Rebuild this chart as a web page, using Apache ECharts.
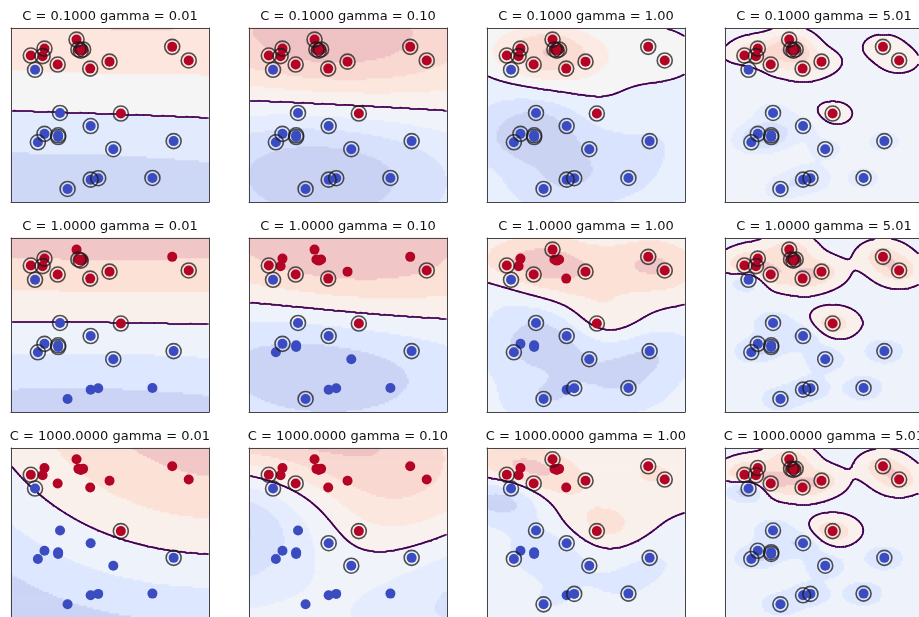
<!DOCTYPE html>
<html><head><meta charset="utf-8">
<script src="https://cdn.jsdelivr.net/npm/echarts@6/dist/echarts.min.js"></script>
<style>html,body{margin:0;padding:0;background:#fff}#c{width:919px;height:617px}</style>
</head><body><div id="c"></div>
<script>
// ---- data (x in [-2.1,2.1], y in [-3,3]) ----
const redX  = [-1.68, -1.39, -1.43, -0.71, -0.67, -0.57, -1.11, -0.42, -0.01, 1.32, 1.67, 0.23, -0.62];
const redY  = [ 2.05,  2.29,  2.03,  2.60,  2.26,  2.26,  1.74,  1.60,  1.84, 2.35, 1.88, 0.05,  2.22];
const blueX = [-1.59, -1.06, -0.41, -1.39, -1.53, -1.10, 0.07, 1.35, 0.90, -0.41, -0.25, -0.90, -1.10];
const blueY = [ 1.56,  0.07, -0.38, -0.65, -0.94, -0.76, -1.18, -0.90, -2.17, -2.23, -2.18, -2.55, -0.70];
const Cs = [0.1, 1, 1000];
const gammas = [0.01, 0.1, 1, 5.01];
// support-vector rings per panel (row-major), 1 = ringed
const svRed = [
  [1,1,1,1,1,1,1,1,1,1,1,1,1],[1,1,1,1,1,1,1,1,1,1,1,1,1],[1,1,1,1,1,1,1,1,1,1,1,1,1],[1,1,1,1,1,1,1,1,1,1,1,1,1],
  [1,1,1,0,1,0,1,1,1,0,1,1,1],[1,0,0,0,0,0,1,1,0,0,1,1,0],[1,0,0,1,0,0,1,0,1,1,1,1,0],[1,1,1,1,1,1,1,1,1,1,1,1,1],
  [1,0,0,0,0,0,0,0,0,0,0,1,0],[1,0,0,0,0,0,1,0,0,0,0,1,0],[1,0,0,1,0,0,1,0,1,1,1,1,0],[1,1,1,1,1,1,1,1,1,1,1,1,1]
];
const svBlue = [
  [1,1,1,1,1,1,1,1,1,1,1,1,1],[1,1,1,1,1,1,1,1,1,1,1,1,1],[1,1,1,1,1,1,1,1,1,1,1,1,1],[1,1,1,1,1,1,1,1,1,1,1,1,1],
  [1,1,1,1,1,1,1,1,0,0,0,0,1],[1,1,1,1,0,0,0,1,0,0,0,1,0],[1,1,1,0,1,0,1,1,1,0,1,1,0],[1,1,1,1,1,1,1,1,1,1,1,1,1],
  [1,0,0,0,0,0,0,1,0,0,0,0,0],[1,0,1,0,0,0,1,1,0,0,0,0,0],[1,1,1,0,1,0,1,1,1,0,1,1,0],[1,1,1,1,1,1,1,1,1,1,1,1,1]
];
const xRange = [-2.1, 2.1], yRange = [-3, 3];

// ---- layout / style ----
const colLeft = [11, 249, 487, 725], rowTop = [28, 238, 448], PW = 198, PH = 174;
const NX = 99, NY = 87;
const cmapStops = [[59,76,192],[98,130,234],[141,176,254],[184,208,249],[221,221,221],[245,196,173],[244,154,123],[222,96,77],[180,4,38]];
const ALPHA = 0.3;
const bgColors = cmapStops.map(c => 'rgb(' + c.map(v => Math.round(255 - ALPHA * (255 - v))).join(',') + ')');

// ---- SVM (SMO) ----
function fitSVM(X, Y, C, gamma) {
  const n = X.length, K = [];
  for (let i = 0; i < n; i++) { K[i] = []; for (let j = 0; j < n; j++) {
    const dx = X[i][0]-X[j][0], dy = X[i][1]-X[j][1]; K[i][j] = Math.exp(-gamma*(dx*dx+dy*dy)); } }
  const a = new Array(n).fill(0), G = new Array(n).fill(-1);
  const snap = v => (v <= C*1e-12 ? 0 : (v >= C*(1 - 1e-12) ? C : v));
  let m = 0, M = 0;
  for (let it = 0; it < 400000; it++) {
    let i = -1, j = -1; m = -Infinity; M = Infinity;
    for (let t = 0; t < n; t++) {
      const v = -Y[t]*G[t];
      const up = (Y[t] > 0 && a[t] < C) || (Y[t] < 0 && a[t] > 0);
      const low = (Y[t] > 0 && a[t] > 0) || (Y[t] < 0 && a[t] < C);
      if (up && v > m) { m = v; i = t; }
      if (low && v < M) { M = v; j = t; }
    }
    if (i < 0 || j < 0 || m - M < 1e-7) break;
    let eta = K[i][i] + K[j][j] - 2*K[i][j]; if (eta < 1e-12) eta = 1e-12;
    let tt = (m - M)/eta;
    tt = Math.min(tt, Y[i] > 0 ? C - a[i] : a[i], Y[j] > 0 ? a[j] : C - a[j]);
    const ai = snap(a[i] + Y[i]*tt), aj = snap(a[j] - Y[j]*tt);
    const di = (ai - a[i])*Y[i], dj = (aj - a[j])*Y[j];
    a[i] = ai; a[j] = aj;
    for (let k = 0; k < n; k++) G[k] += Y[k]*(K[k][i]*di + K[k][j]*dj);
  }
  let s = 0, c = 0;
  for (let t = 0; t < n; t++) if (a[t] > 0 && a[t] < C) { s += -Y[t]*G[t]; c++; }
  const b = c ? s/c : (m + M)/2;
  return (x, y) => { let f = b; for (let k = 0; k < n; k++) { if (a[k] === 0) continue;
    const dx = x-X[k][0], dy = y-X[k][1]; f += a[k]*Y[k]*Math.exp(-gamma*(dx*dx+dy*dy)); } return f; };
}
function niceLevels(lo, hi) {
  const raw = (hi - lo)/8, mag = Math.pow(10, Math.floor(Math.log10(raw)));
  for (const s of [1, 2, 2.5, 5, 10, 20]) {
    const step = s*mag, a = Math.floor(lo/step + 1e-9)*step, b = Math.ceil(hi/step - 1e-9)*step;
    const n = Math.round((b - a)/step);
    if (n <= 8) return { a, step, n };
  }
}

const X = [], Y = [];
redX.forEach((x, i) => { X.push([x, redY[i]]); Y.push(1); });
blueX.forEach((x, i) => { X.push([x, blueY[i]]); Y.push(-1); });

const cats = Array.from({ length: NX }, (_, i) => i), catsY = Array.from({ length: NY }, (_, i) => i);
const grids = [], xAxes = [], yAxes = [], series = [], heatIdx = [], graphics = [];
const axLine = { show: true, onZero: false, lineStyle: { color: '#444', width: 1 } };
const hidden = { axisTick: { show: false }, axisLabel: { show: false }, splitLine: { show: false } };

for (let r = 0; r < 3; r++) for (let cI = 0; cI < 4; cI++) {
  const g = r*4 + cI, C = Cs[r], gamma = gammas[cI];
  grids.push({ left: colLeft[cI], top: rowTop[r], width: PW, height: PH, show: false });
  xAxes.push(Object.assign({ type: 'category', gridIndex: g, data: cats, position: 'bottom', axisLine: axLine, z: 10 }, hidden));
  xAxes.push(Object.assign({ type: 'value', gridIndex: g, min: xRange[0], max: xRange[1], position: 'top', axisLine: axLine, z: 10 }, hidden));
  yAxes.push(Object.assign({ type: 'category', gridIndex: g, data: catsY, position: 'left', axisLine: axLine, z: 10 }, hidden));
  yAxes.push(Object.assign({ type: 'value', gridIndex: g, min: yRange[0], max: yRange[1], position: 'right', axisLine: axLine, z: 10 }, hidden));

  const f = fitSVM(X, Y, C, gamma);
  const dx = (xRange[1]-xRange[0])/NX, dy = (yRange[1]-yRange[0])/NY;
  const gx = i => xRange[0] + (i+0.5)*dx, gy = j => yRange[0] + (j+0.5)*dy;
  const Z = []; let zmin = Infinity, zmax = -Infinity;
  for (let j = 0; j < NY; j++) { Z[j] = []; for (let i = 0; i < NX; i++) {
    const z = f(gx(i), gy(j)); Z[j][i] = z; if (z < zmin) zmin = z; if (z > zmax) zmax = z; } }
  const L = niceLevels(zmin, zmax);
  const heat = [];
  for (let j = 0; j < NY; j++) for (let i = 0; i < NX; i++) {
    let k = Math.floor((Z[j][i] - L.a)/L.step); k = Math.max(0, Math.min(L.n - 1, k));
    heat.push([i, j, (k + 0.5)/L.n]);
  }
  heatIdx.push(series.length);
  series.push({ type: 'heatmap', xAxisIndex: 2*g, yAxisIndex: 2*g, data: heat, progressive: 0, silent: true, z: 1, emphasis: { disabled: true } });

  // zero contour (marching squares)
  const segs = [];
  const ip = (x1, y1, z1, x2, y2, z2) => { const t = z1/(z1 - z2); return [x1 + t*(x2-x1), y1 + t*(y2-y1)]; };
  for (let j = 0; j < NY-1; j++) for (let i = 0; i < NX-1; i++) {
    const z00 = Z[j][i], z10 = Z[j][i+1], z01 = Z[j+1][i], z11 = Z[j+1][i+1];
    const x0 = gx(i), x1 = gx(i+1), y0 = gy(j), y1 = gy(j+1);
    const p = z => z > 0;
    const e = {};
    if (p(z00) !== p(z10)) e.b = ip(x0, y0, z00, x1, y0, z10);
    if (p(z10) !== p(z11)) e.r = ip(x1, y0, z10, x1, y1, z11);
    if (p(z01) !== p(z11)) e.t = ip(x0, y1, z01, x1, y1, z11);
    if (p(z00) !== p(z01)) e.l = ip(x0, y0, z00, x0, y1, z01);
    const ks = Object.keys(e);
    if (ks.length === 2) segs.push({ coords: [e[ks[0]], e[ks[1]]] });
    else if (ks.length === 4) {
      const cen = (z00 + z10 + z01 + z11)/4;
      if (p(cen) === p(z00)) { segs.push({ coords: [e.b, e.r] }); segs.push({ coords: [e.t, e.l] }); }
      else { segs.push({ coords: [e.b, e.l] }); segs.push({ coords: [e.t, e.r] }); }
    }
  }
  series.push({ type: 'lines', coordinateSystem: 'cartesian2d', xAxisIndex: 2*g+1, yAxisIndex: 2*g+1, data: segs, silent: true, z: 3,
    lineStyle: { color: '#440154', width: 1.7, opacity: 1, curveness: 0, cap: 'round', join: 'round' } });

  series.push({ type: 'scatter', xAxisIndex: 2*g+1, yAxisIndex: 2*g+1, silent: true, z: 4, symbolSize: 10,
    data: redX.map((x, i) => [x, redY[i]]), itemStyle: { color: '#b40426', opacity: 1 } });
  series.push({ type: 'scatter', xAxisIndex: 2*g+1, yAxisIndex: 2*g+1, silent: true, z: 4, symbolSize: 10,
    data: blueX.map((x, i) => [x, blueY[i]]), itemStyle: { color: '#3b4cc0', opacity: 1 } });
  const sv = [];
  redX.forEach((x, i) => { if (svRed[g][i]) sv.push([x, redY[i]]); });
  blueX.forEach((x, i) => { if (svBlue[g][i]) sv.push([x, blueY[i]]); });
  series.push({ type: 'scatter', xAxisIndex: 2*g+1, yAxisIndex: 2*g+1, silent: true, z: 5, symbolSize: 15, data: sv,
    itemStyle: { color: 'rgba(0,0,0,0)', borderColor: '#1a1a1a', borderWidth: 1.6, opacity: 0.75 } });

  graphics.push({ type: 'text', x: colLeft[cI] + PW/2, y: rowTop[r] - 11.5, silent: true,
    style: { text: 'C = ' + C.toFixed(4) + ' gamma = ' + gamma.toFixed(2), fill: '#111', font: '13px "DejaVu Sans"',
      align: 'center', verticalAlign: 'middle', textAlign: 'center', textVerticalAlign: 'middle' } });
}

const chart = echarts.init(document.getElementById('c'), null, { renderer: 'canvas' });
chart.setOption({
  animation: false, backgroundColor: '#fff',
  grid: grids, xAxis: xAxes, yAxis: yAxes,
  visualMap: { type: 'continuous', show: false, min: 0, max: 1, seriesIndex: heatIdx, inRange: { color: bgColors } },
  series: series, graphic: graphics
});
</script></body></html>
